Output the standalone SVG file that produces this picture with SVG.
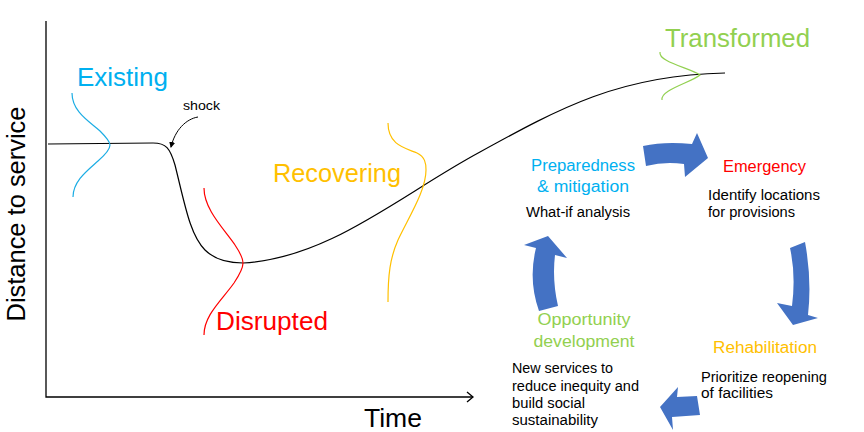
<svg xmlns="http://www.w3.org/2000/svg" width="864" height="432" viewBox="0 0 864 432">
<defs>
<marker id="ah" markerWidth="6" markerHeight="6" refX="5" refY="3" orient="auto" markerUnits="userSpaceOnUse"><path d="M0,0 L6,3 L0,6 Z" fill="#000"/></marker>
</defs>
<style>
text{font-family:"Liberation Sans",Arial,sans-serif}
.big{font-size:25px}
.mid{font-size:16px}
.sm{font-size:14px;fill:#000}
.blue{fill:#00B0F0}.red{fill:#FF0000}.yel{fill:#FFC000}.grn{fill:#92D050}
.w{fill:none;stroke-width:1.2}
.cyc{fill:#4472C4}
</style>
<rect width="864" height="432" fill="#fff"/>
<g id="axes" fill="none" stroke="#000" stroke-width="1.3">
<path d="M46,21 V397 H473"/>
<path d="M467,392 L473,397 L467,402"/>
</g>
<text class="big" transform="translate(25,214) rotate(-90)" text-anchor="middle" textLength="215" lengthAdjust="spacingAndGlyphs">Distance to service</text>
<text class="big" x="364" y="427" font-size="24" textLength="58" lengthAdjust="spacingAndGlyphs">Time</text>
<g id="curve">
<path d="M48,144 L153,143 C166,143 170,148 175,165 C185,205 190,235 205,250 C215,260 228,263 243,263 C330,258 400,195 480,152 C560,108 620,75 725,73" fill="none" stroke="#000" stroke-width="1.2"/>
</g>
<g id="existing">
<path class="w" stroke="#1CADE4" d="M72,93 C72,112 90,122 100,131 C107,138 110,142 110,145 C110,149 106,154 98,161 C88,170 73,181 73,197"/>
<text class="big blue" x="77" y="86" textLength="91" lengthAdjust="spacingAndGlyphs">Existing</text>
</g>
<g id="shock">
<text x="183" y="110" font-size="13" textLength="37" lengthAdjust="spacingAndGlyphs">shock</text>
<path d="M198,117 C186,119 175,130 171,147" fill="none" stroke="#000" stroke-width="1" marker-end="url(#ah)"/>
</g>
<g id="disrupted">
<path class="w" stroke="#FF0000" d="M204,188 C204,210 225,230 235,245 C241,254 243,259 243,263 C243,268 240,274 234,283 C222,300 204,315 204,335"/>
<text class="big red" x="216" y="330" textLength="112" lengthAdjust="spacingAndGlyphs">Disrupted</text>
</g>
<g id="recovering">
<path class="w" stroke="#FFC000" d="M388,123 C388,145 405,148 417,153 C425,157 426,163 426,170 C426,190 410,215 398,240 C390,258 388,275 388,302"/>
<text class="big yel" x="273" y="182" textLength="128" lengthAdjust="spacingAndGlyphs">Recovering</text>
</g>
<g id="transformed">
<path class="w" stroke="#92D050" d="M660,52 C658,62 690,68 700,75 C690,83 660,90 662,100"/>
<text class="big grn" x="665" y="47" font-size="26" textLength="145" lengthAdjust="spacingAndGlyphs">Transformed</text>
</g>
<g id="preparedness">
<text class="mid blue" x="583" y="171" text-anchor="middle" textLength="104" lengthAdjust="spacingAndGlyphs">Preparedness</text>
<text class="mid blue" x="583" y="192" text-anchor="middle" textLength="92" lengthAdjust="spacingAndGlyphs">&amp; mitigation</text>
<text class="sm" x="526" y="217" textLength="104" lengthAdjust="spacingAndGlyphs">What-if analysis</text>
</g>
<g id="emergency">
<text class="mid red" x="723" y="172" textLength="83" lengthAdjust="spacingAndGlyphs">Emergency</text>
<text class="sm" x="708" y="200" textLength="112" lengthAdjust="spacingAndGlyphs">Identify locations</text>
<text class="sm" x="708" y="217" textLength="87" lengthAdjust="spacingAndGlyphs">for provisions</text>
</g>
<g id="rehabilitation">
<text class="mid yel" x="713" y="353" textLength="104" lengthAdjust="spacingAndGlyphs">Rehabilitation</text>
<text class="sm" x="701" y="382" textLength="126" lengthAdjust="spacingAndGlyphs">Prioritize reopening</text>
<text class="sm" x="701" y="398" textLength="72" lengthAdjust="spacingAndGlyphs">of facilities</text>
</g>
<g id="opportunity">
<text class="mid grn" x="584" y="325" text-anchor="middle" textLength="93" lengthAdjust="spacingAndGlyphs">Opportunity</text>
<text class="mid grn" x="584" y="347" text-anchor="middle" textLength="101" lengthAdjust="spacingAndGlyphs">development</text>
<text class="sm" x="512" y="373" textLength="101" lengthAdjust="spacingAndGlyphs">New services to</text>
<text class="sm" x="512" y="391" textLength="127" lengthAdjust="spacingAndGlyphs">reduce inequity and</text>
<text class="sm" x="512" y="408" textLength="73" lengthAdjust="spacingAndGlyphs">build social</text>
<text class="sm" x="512" y="425" textLength="86" lengthAdjust="spacingAndGlyphs">sustainability</text>
</g>
<g id="connectors">
<path class="cyc" d="M643,146 Q665,141 692,144 L697,133 L708,158 L685,177 L684,164 Q665,161 646,166 Z"/>
<path class="cyc" d="M790,248 L805,242 Q812,280 808,315 L818,318 L793,325 L777,303 L792,306 Q796,275 790,248 Z"/>
<path class="cyc" d="M697,396 L677,397 L678,387 L660,407 L673,430 L672,417 L700,415 Z"/>
<path class="cyc" d="M539,311 Q528,280 536,248 L524,245 L548,236 L567,258 L555,255 Q552,280 558,306 Z"/>
</g>
</svg>
